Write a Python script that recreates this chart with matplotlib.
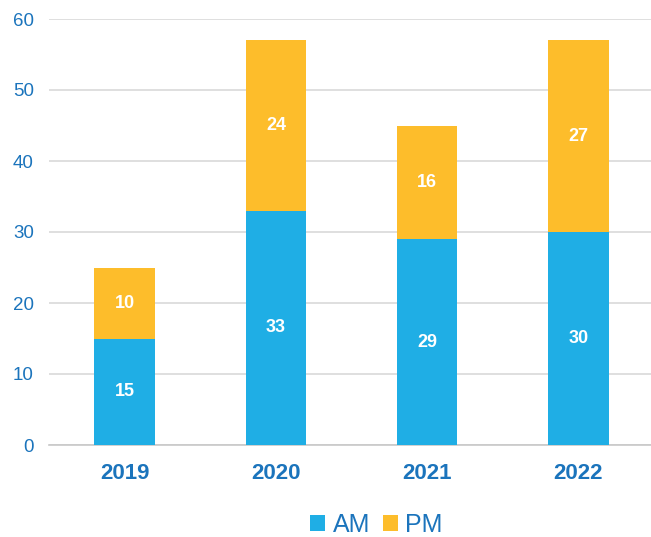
import matplotlib.pyplot as plt
import numpy as np

years = ["2019", "2020", "2021", "2022"]
am = [15, 33, 29, 30]
pm = [10, 24, 16, 27]

blue = "#1FAEE5"
yellow = "#FDBD2B"
text_col = "#1B74BC"

plt.rcParams["font.family"] = ["Liberation Sans", "DejaVu Sans"]

fig = plt.figure(figsize=(6.51, 5.37), dpi=100)
ax = fig.add_axes([49 / 651, 92 / 537, 605 / 651, 426 / 537])

x = np.arange(len(years))
b1 = ax.bar(x, am, width=0.4, color=blue, label="AM", zorder=3)
b2 = ax.bar(x, pm, width=0.4, bottom=am, color=yellow, label="PM", zorder=3)

for bars, vals, base in [(b1, am, [0] * 4), (b2, pm, am)]:
    for rect, v, b in zip(bars, vals, base):
        ax.text(rect.get_x() + rect.get_width() / 2, b + v / 2, str(v),
                ha="center", va="center", color="white", fontsize=13,
                fontweight="bold", zorder=4)

ax.set_xlim(-0.5, 3.5)
ax.set_ylim(0, 60)
ax.set_yticks(range(0, 61, 10))
ax.set_xticks(x)
ax.set_xticklabels(years, fontsize=16, fontweight="bold", color=text_col)
ax.tick_params(axis="y", labelsize=13.5, colors=text_col, length=0, pad=11)
ax.tick_params(axis="x", length=0, pad=13)
ax.grid(axis="y", color="#D9D9D9", linewidth=1.2, zorder=0)
for s in ["top", "right", "left"]:
    ax.spines[s].set_visible(False)
ax.spines["bottom"].set_color("#C8C8C8")
ax.spines["bottom"].set_linewidth(1.2)

fig.legend(handles=[b1, b2], loc="center", bbox_to_anchor=(0.578, 0.022),
           ncol=2, frameon=False, fontsize=18, labelcolor=text_col,
           handlelength=0.6, handleheight=0.6, handletextpad=0.3,
           columnspacing=0.5)

fig.savefig("out.png", dpi=100)
